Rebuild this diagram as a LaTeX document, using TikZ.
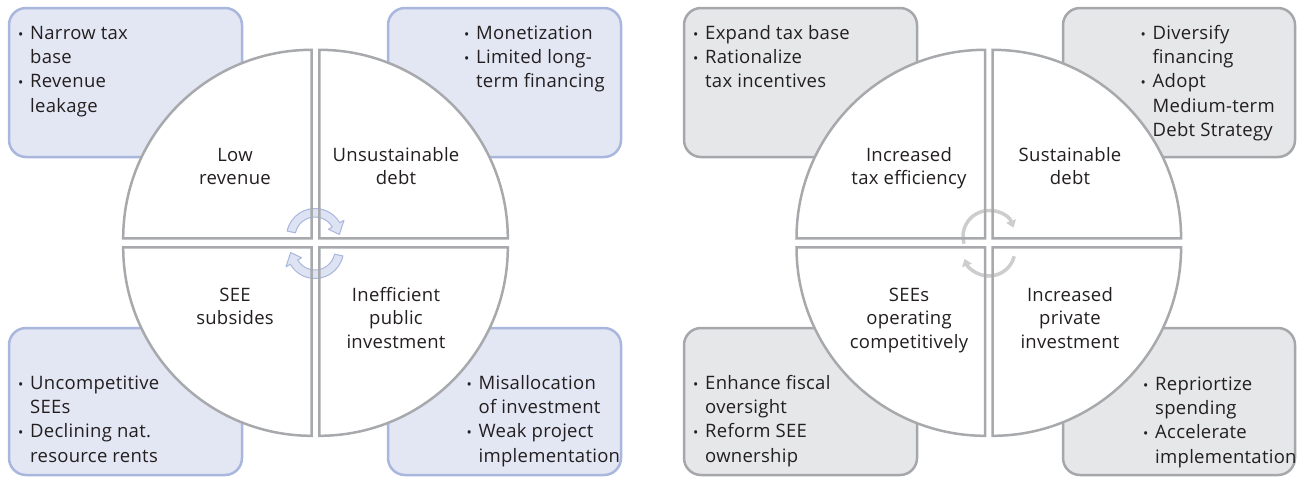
\documentclass[tikz,border=0pt]{standalone}
\usepackage{fontspec}
\setmainfont[LetterSpace=1.5]{Open Sans}
\usetikzlibrary{arrows.meta,calc}
\definecolor{bfill}{HTML}{E3E7F4}
\definecolor{bline}{HTML}{A9B6DD}
\definecolor{gfill}{HTML}{E6E7E8}
\definecolor{gline}{HTML}{A5A7AA}
\definecolor{qline}{HTML}{A7A9AC}
\definecolor{afill}{HTML}{DDE3F3}
\definecolor{aline}{HTML}{A9B6DD}
\definecolor{garc}{HTML}{CDCDCD}
\definecolor{txt}{HTML}{231F20}
\newcommand\bi{\makebox[11pt][l]{\hspace*{-1pt}{\fontsize{14}{14}\selectfont\textbullet}}}
\newcommand\ci{\hspace*{11pt}}
\tikzset{
  bbox/.style={draw=bline, fill=bfill, line width=2.5pt, rounded corners=17pt},
  gbox/.style={draw=gline, fill=gfill, line width=2.5pt, rounded corners=17pt},
  qfill/.style={fill=white},
  qdraw/.style={draw=qline, line width=2.5pt},
  qlabel/.style={font=\fontsize{18.5}{23.5}\selectfont, align=center, inner sep=0pt, text=txt},
  blist/.style={font=\fontsize{18.5}{24.3}\selectfont, align=left, inner sep=0pt, anchor=north west, text=txt},
  barrow/.style={fill=afill, draw=aline, line width=1pt, line join=round},
  garrow/.style={draw=garc, line width=3.5pt, -{Triangle[width=10pt,length=7pt]}},
}
\begin{document}
\begin{tikzpicture}[x=1pt,y=-1pt]
\useasboundingbox (0,0) rectangle (1301,477);
% ---------- boxes ----------
\path[bbox] (9,8) rectangle (242,157);
\path[bbox] (388,8) rectangle (621,157);
\path[bbox] (9,328) rectangle (242,475);
\path[bbox] (388,328) rectangle (621,475);
\path[gbox] (684,8) rectangle (917,157);
\path[gbox] (1063,8) rectangle (1295,157);
\path[gbox] (684,328) rectangle (917,475);
\path[gbox] (1063,328) rectangle (1295,475);
% ---------- quadrant corners ----------
\coordinate (lTL) at (311.7,238.3);
\coordinate (lTR) at (319.3,238.3);
\coordinate (lBL) at (311.7,247.3);
\coordinate (lBR) at (319.3,247.3);
\coordinate (rTL) at (985,238.3);
\coordinate (rTR) at (992.6,238.3);
\coordinate (rBL) at (985,247.3);
\coordinate (rBR) at (992.6,247.3);
\foreach \c/\a/\b in {lTL/180/270,lTR/270/360,lBL/180/90,lBR/0/90,rTL/180/270,rTR/270/360,rBL/180/90,rBR/0/90}
  \path[qfill] (\c) -- ++(\a:188.5) arc[start angle=\a,end angle=\b,radius=188.5] -- cycle;
% ---------- cycle arrows, left (blue) ----------
\coordinate (oT) at (315,237);
\coordinate (oB) at (315,250);
\path[barrow] ($(oT)+(192:28.5)$) arc[start angle=192,end angle=330,radius=28.5]
  -- ($(oT)+(330:33.5)$) -- ($(oT)+(354:24.5)$) -- ($(oT)+(330:15.5)$)
  -- ($(oT)+(330:20)$) arc[start angle=330,end angle=192,radius=20] -- cycle;
\path[barrow] ($(oB)+(12:28.5)$) arc[start angle=12,end angle=150,radius=28.5]
  -- ($(oB)+(150:33.5)$) -- ($(oB)+(174:24.5)$) -- ($(oB)+(150:15.5)$)
  -- ($(oB)+(150:20)$) arc[start angle=150,end angle=12,radius=20] -- cycle;
% ---------- cycle arrows, right (gray) ----------
\coordinate (pT) at (989,236.5);
\coordinate (pB) at (989,250);
\draw[garrow] ($(pT)+(164:26)$) arc[start angle=164,end angle=340,radius=26];
\draw[garrow] ($(pB)+(14:26)$) arc[start angle=14,end angle=160,radius=26];
% ---------- quadrant outlines ----------
\foreach \c/\a/\b in {lTL/180/270,lTR/270/360,lBL/180/90,lBR/0/90,rTL/180/270,rTR/270/360,rBL/180/90,rBR/0/90}
  \path[qdraw] (\c) -- ++(\a:188.5) arc[start angle=\a,end angle=\b,radius=188.5] -- cycle;
% ---------- quadrant labels ----------
\node[qlabel, anchor=south] (lowrev) at (235,192) {Low\strut\\revenue\strut};
\node[qlabel, anchor=south] (unsust) at (396,192) {Unsustainable\strut\\debt\strut};
\node[qlabel, anchor=north] (seesub) at (235,284.5) {\strut SEE\\\strut subsides};
\node[qlabel, anchor=north] (ineff) at (396,284.5) {\strut Inefficient\\\strut public\\\strut investment};
\node[qlabel, anchor=south] (taxeff) at (909,192) {Increased\strut\\tax efficiency\strut};
\node[qlabel, anchor=south] (susdebt) at (1070,192) {Sustainable\strut\\debt\strut};
\node[qlabel, anchor=north] (seecomp) at (909,284.5) {\strut SEEs\\\strut operating\\\strut competitively};
\node[qlabel, anchor=north] (privinv) at (1070,284.5) {\strut Increased\\\strut private\\\strut investment};
% ---------- box lists ----------
\node[blist] (l1) at (19,22) {\strut\bi Narrow tax\\\ci base\\\bi Revenue\\\ci leakage};
\node[blist] (l2) at (465,22) {\strut\bi Monetization\\\bi Limited long-\\\ci term financing};
\node[blist] (l3) at (19,372) {\strut\bi Uncompetitive\\\ci SEEs\\\bi Declining nat.\\\ci resource rents};
\node[blist] (l4) at (467.5,372) {\strut\bi Misallocation\\\ci of investment\\\bi Weak project\\\ci implementation};
\node[blist] (r1) at (694,22) {\strut\bi Expand tax base\\\bi Rationalize\\\ci tax incentives};
\node[blist] (r2) at (1141.5,22) {\strut\bi Diversify\\\ci financing\\\bi Adopt\\\ci Medium-term\\\ci Debt Strategy};
\node[blist] (r3) at (694,372) {\strut\bi Enhance fiscal\\\ci oversight\\\bi Reform SEE\\\ci ownership};
\node[blist] (r4) at (1144,373) {\strut\bi Repriortize\\\ci spending\\\bi Accelerate\\\ci implementation};
\end{tikzpicture}
\end{document}
